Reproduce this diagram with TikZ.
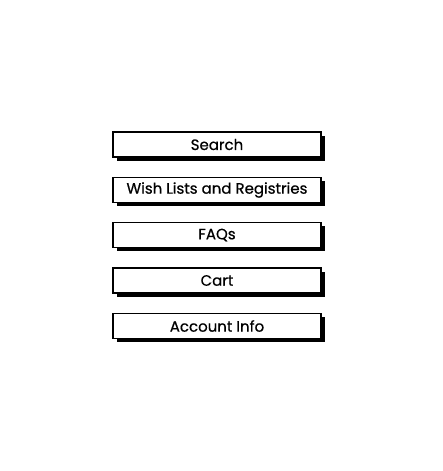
\documentclass[tikz,border=0pt]{standalone}
\usepackage{fontspec}
\newfontfamily\menufont[FakeBold=0.6]{Poppins}
\usetikzlibrary{shadows}
\begin{document}
\begin{tikzpicture}[x=1pt,y=-1pt]
\useasboundingbox[fill=white] (0,0) rectangle (443,471);
\tikzset{menubox/.style={draw=black, line width=1.6pt, fill=white,
  minimum width=208pt, minimum height=25pt, inner sep=0pt,
  font=\menufont\fontsize{15}{17}\selectfont,
  drop shadow={shadow xshift=3.5pt, shadow yshift=-3.5pt, fill=black, opacity=1}}}
\node[menubox] (search)  at (217,144.5) {Search};
\node[menubox] (wish)    at (217,190)   {Wish Lists and Registries};
\node[menubox] (faqs)    at (217,235)   {FAQs};
\node[menubox] (cart)    at (217,280.5) {Cart};
\node[menubox] (account) at (217,326)   {Account Info};
\end{tikzpicture}
\end{document}
